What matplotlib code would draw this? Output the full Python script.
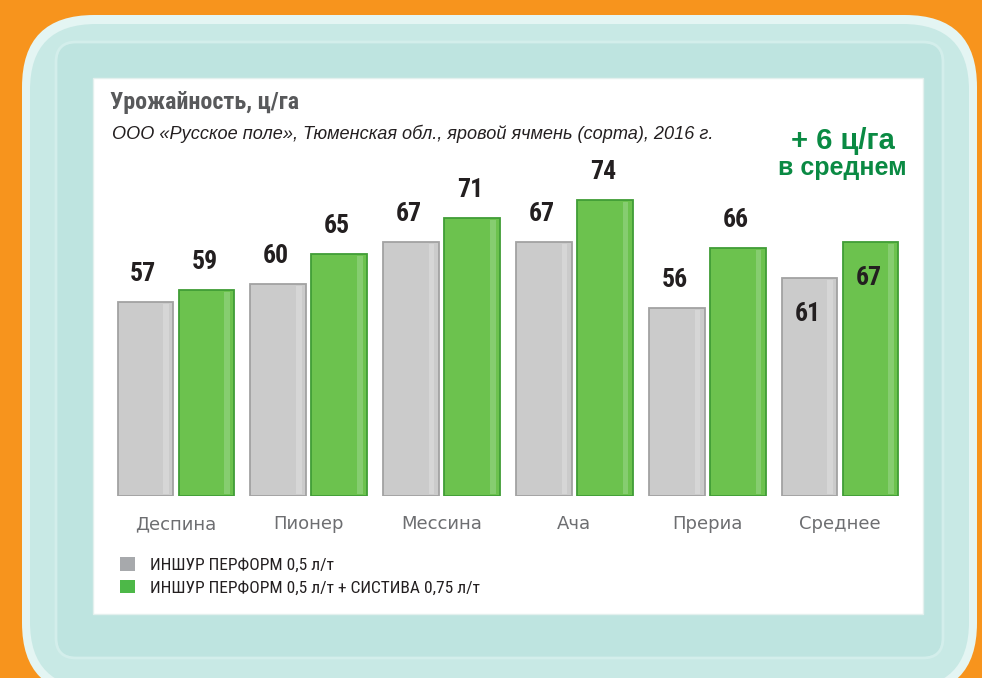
import matplotlib
matplotlib.use('Agg')
import numpy as np
import matplotlib.pyplot as plt
from matplotlib.patches import FancyBboxPatch, Rectangle
from matplotlib import font_manager as fm

# ---- data ----
categories = ['Деспина', 'Пионер', 'Мессина', 'Ача', 'Прериа', 'Среднее']
base_vals = [57, 60, 67, 67, 56, 61]
combo_vals = [59, 65, 71, 74, 66, 67]
legend_labels = ['ИНШУР ПЕРФОРМ 0,5 л/т',
                 'ИНШУР ПЕРФОРМ 0,5 л/т + СИСТИВА 0,75 л/т']
title_text = 'Урожайность, ц/га'
subtitle_text = 'ООО «Русское поле», Тюменская обл., яровой ячмень (сорта), 2016 г.'
badge_lines = ['+ 6 ц/га', 'в среднем']

names = {f.name for f in fm.fontManager.ttflist}
COND = 'Roboto Condensed' if 'Roboto Condensed' in names else 'Liberation Sans'
COND_F = [COND, 'DejaVu Sans']

W, H = 982, 678
fig = plt.figure(figsize=(W / 100, H / 100), dpi=100)
fig.patch.set_facecolor('#F7941D')

# background / tray in pixel coordinates
bg = fig.add_axes([0, 0, 1, 1])
bg.set_xlim(0, W)
bg.set_ylim(H, 0)
bg.axis('off')

bg.add_patch(FancyBboxPatch((22, 15), 955, 680, boxstyle='round,pad=0,rounding_size=72',
                            facecolor='#E4F5F3', edgecolor='none'))
bg.add_patch(FancyBboxPatch((30, 24), 939, 664, boxstyle='round,pad=0,rounding_size=66',
                            facecolor='#C8E9E5', edgecolor='none'))
bg.add_patch(FancyBboxPatch((56, 42), 887, 616, boxstyle='round,pad=0,rounding_size=20',
                            facecolor='#BEE4E0', edgecolor='#D3EEEB', linewidth=2))
bg.add_patch(Rectangle((93, 78), 830, 536, facecolor='white', edgecolor='#E3F0EE', linewidth=1))

bg.text(110, 102, title_text, fontsize=17.3, fontweight='bold', family=COND_F,
        color='#58595B', ha='left', va='center')
bg.text(112, 134, subtitle_text, fontsize=13.1, style='italic', family=['Liberation Sans', 'DejaVu Sans'],
        color='#231F20', ha='left', va='center')
bg.text(843, 141, badge_lines[0], fontsize=21, fontweight='bold', family=['Liberation Sans', 'DejaVu Sans'],
        color='#0A8A43', ha='center', va='center')
bg.text(842, 168, badge_lines[1], fontsize=18, fontweight='bold', family=['Liberation Sans', 'DejaVu Sans'],
        color='#0A8A43', ha='center', va='center')

# ---- chart axes ----
x0_px, step_px = 176.0, 132.8
ax_l, ax_r, ax_b, ax_t = 100, 915, 496, 150
Y0 = 24.7
px_per_unit = 6.0
ax = fig.add_axes([ax_l / W, 1 - ax_b / H, (ax_r - ax_l) / W, (ax_b - ax_t) / H])
ax.patch.set_alpha(0)
ax.set_xlim((ax_l - x0_px) / step_px, (ax_r - x0_px) / step_px)
ax.set_ylim(Y0, Y0 + (ax_b - ax_t) / px_per_unit)

x = np.arange(len(categories))
bw, off = 0.42, 0.23
gray_face, gray_edge = '#CBCBCB', '#A2A2A2'
green_face, green_edge = '#6CC24E', '#409D36'

b1 = ax.bar(x - off, np.array(base_vals) - Y0, bw, bottom=Y0, color=gray_face,
            edgecolor=gray_edge, linewidth=1.3, label=legend_labels[0])
b2 = ax.bar(x + off, np.array(combo_vals) - Y0, bw, bottom=Y0, color=green_face,
            edgecolor=green_edge, linewidth=1.3, label=legend_labels[1])
# subtle highlight strips (3D look)
ax.bar(x - off + bw * 0.37, np.array(base_vals) - Y0 - 0.6, bw * 0.10, bottom=Y0 + 0.3,
       color='#D6D6D6', edgecolor='none')
ax.bar(x + off + bw * 0.37, np.array(combo_vals) - Y0 - 0.6, bw * 0.10, bottom=Y0 + 0.3,
       color='#86CD70', edgecolor='none')

for i, (a, b) in enumerate(zip(base_vals, combo_vals)):
    inside = (i == len(categories) - 1)
    dy = -26 if inside else 20
    for xv, v in ((i - off, a), (i + off, b)):
        ax.annotate(str(v), (xv, v), xytext=(-1.5, dy), textcoords='offset points',
                    ha='center', va='center', fontsize=18.5, fontweight='bold',
                    family=COND_F, color='#231F20')

ax.set_xticks(x)
ax.set_xticklabels(categories, fontsize=13, color='#6D6E71', family='DejaVu Sans')
ax.tick_params(axis='x', length=0, pad=14)
ax.set_yticks([])
for s in ax.spines.values():
    s.set_visible(False)

leg = ax.legend(handles=[b1, b2], loc='upper left',
                bbox_to_anchor=(120 / W, 1 - 557 / H), bbox_transform=fig.transFigure,
                frameon=False, prop={'family': COND_F, 'size': 12.5},
                handlelength=0.85, handleheight=0.85, handletextpad=0.85,
                labelspacing=0.38, borderpad=0, borderaxespad=0)
for h in leg.legend_handles:
    h.set_edgecolor('none')
leg.legend_handles[0].set_facecolor('#A7A9AC')
leg.legend_handles[1].set_facecolor('#4DB848')
for t in leg.get_texts():
    t.set_color('#231F20')

fig.savefig('out.png', dpi=100, facecolor=fig.get_facecolor())
